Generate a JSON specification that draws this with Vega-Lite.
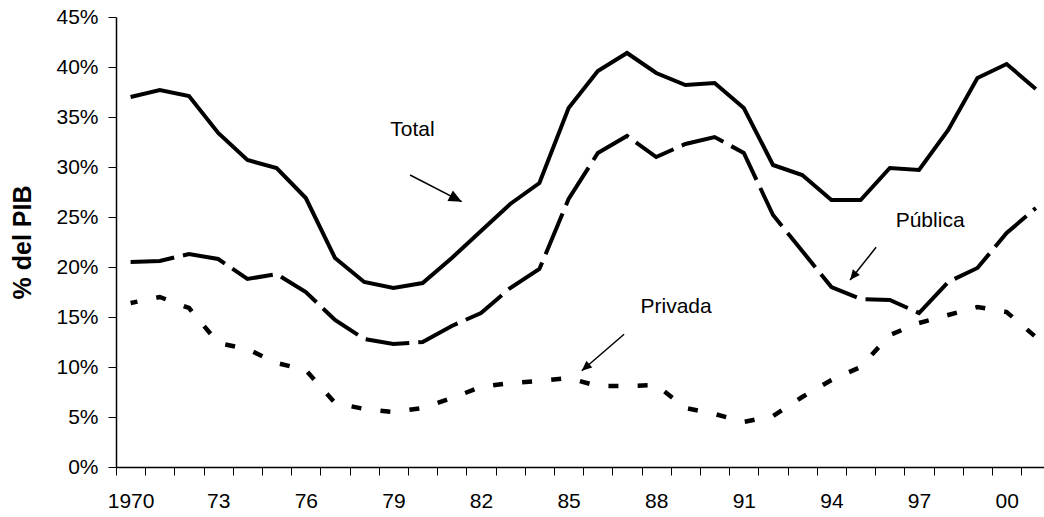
{
  "$schema": "https://vega.github.io/schema/vega-lite/v6.json",
  "width": 928,
  "height": 450,
  "autosize": {"type": "none"},
  "padding": {"left": 116, "top": 17, "right": 0, "bottom": 50},
  "background": "white",
  "config": {
    "view": {"stroke": null},
    "font": "Liberation Sans",
    "axis": {"labelFont": "Liberation Sans", "titleFont": "Liberation Sans", "labelColor": "black", "titleColor": "black", "domainColor": "black", "tickColor": "black", "grid": false}
  },
  "resolve": {"axis": {"x": "independent"}},
  "datasets": {
    "series": [
      {"year": 1970, "serie": "Total", "value": 37.0},
      {"year": 1971, "serie": "Total", "value": 37.7},
      {"year": 1972, "serie": "Total", "value": 37.1},
      {"year": 1973, "serie": "Total", "value": 33.4},
      {"year": 1974, "serie": "Total", "value": 30.7},
      {"year": 1975, "serie": "Total", "value": 29.9},
      {"year": 1976, "serie": "Total", "value": 26.9},
      {"year": 1977, "serie": "Total", "value": 20.9},
      {"year": 1978, "serie": "Total", "value": 18.5},
      {"year": 1979, "serie": "Total", "value": 17.9},
      {"year": 1980, "serie": "Total", "value": 18.4},
      {"year": 1981, "serie": "Total", "value": 20.9},
      {"year": 1982, "serie": "Total", "value": 23.6},
      {"year": 1983, "serie": "Total", "value": 26.3},
      {"year": 1984, "serie": "Total", "value": 28.4},
      {"year": 1985, "serie": "Total", "value": 35.9},
      {"year": 1986, "serie": "Total", "value": 39.6},
      {"year": 1987, "serie": "Total", "value": 41.4},
      {"year": 1988, "serie": "Total", "value": 39.4},
      {"year": 1989, "serie": "Total", "value": 38.2},
      {"year": 1990, "serie": "Total", "value": 38.4},
      {"year": 1991, "serie": "Total", "value": 35.9},
      {"year": 1992, "serie": "Total", "value": 30.2},
      {"year": 1993, "serie": "Total", "value": 29.2},
      {"year": 1994, "serie": "Total", "value": 26.7},
      {"year": 1995, "serie": "Total", "value": 26.7},
      {"year": 1996, "serie": "Total", "value": 29.9},
      {"year": 1997, "serie": "Total", "value": 29.7},
      {"year": 1998, "serie": "Total", "value": 33.7},
      {"year": 1999, "serie": "Total", "value": 38.9},
      {"year": 2000, "serie": "Total", "value": 40.3},
      {"year": 2001, "serie": "Total", "value": 37.8},
      {"year": 1970, "serie": "Pública", "value": 20.5},
      {"year": 1971, "serie": "Pública", "value": 20.6},
      {"year": 1972, "serie": "Pública", "value": 21.3},
      {"year": 1973, "serie": "Pública", "value": 20.8},
      {"year": 1974, "serie": "Pública", "value": 18.8},
      {"year": 1975, "serie": "Pública", "value": 19.3},
      {"year": 1976, "serie": "Pública", "value": 17.5},
      {"year": 1977, "serie": "Pública", "value": 14.7},
      {"year": 1978, "serie": "Pública", "value": 12.8},
      {"year": 1979, "serie": "Pública", "value": 12.3},
      {"year": 1980, "serie": "Pública", "value": 12.5},
      {"year": 1981, "serie": "Pública", "value": 14.1},
      {"year": 1982, "serie": "Pública", "value": 15.4},
      {"year": 1983, "serie": "Pública", "value": 17.9},
      {"year": 1984, "serie": "Pública", "value": 19.8},
      {"year": 1985, "serie": "Pública", "value": 26.8},
      {"year": 1986, "serie": "Pública", "value": 31.4},
      {"year": 1987, "serie": "Pública", "value": 33.1},
      {"year": 1988, "serie": "Pública", "value": 31.0},
      {"year": 1989, "serie": "Pública", "value": 32.3},
      {"year": 1990, "serie": "Pública", "value": 33.0},
      {"year": 1991, "serie": "Pública", "value": 31.4},
      {"year": 1992, "serie": "Pública", "value": 25.2},
      {"year": 1993, "serie": "Pública", "value": 21.6},
      {"year": 1994, "serie": "Pública", "value": 18.0},
      {"year": 1995, "serie": "Pública", "value": 16.8},
      {"year": 1996, "serie": "Pública", "value": 16.7},
      {"year": 1997, "serie": "Pública", "value": 15.4},
      {"year": 1998, "serie": "Pública", "value": 18.5},
      {"year": 1999, "serie": "Pública", "value": 19.9},
      {"year": 2000, "serie": "Pública", "value": 23.4},
      {"year": 2001, "serie": "Pública", "value": 25.9},
      {"year": 1970, "serie": "Privada", "value": 16.4},
      {"year": 1971, "serie": "Privada", "value": 17.0},
      {"year": 1972, "serie": "Privada", "value": 15.9},
      {"year": 1973, "serie": "Privada", "value": 12.4},
      {"year": 1974, "serie": "Privada", "value": 11.8},
      {"year": 1975, "serie": "Privada", "value": 10.4},
      {"year": 1976, "serie": "Privada", "value": 9.7},
      {"year": 1977, "serie": "Privada", "value": 6.4},
      {"year": 1978, "serie": "Privada", "value": 5.8},
      {"year": 1979, "serie": "Privada", "value": 5.5},
      {"year": 1980, "serie": "Privada", "value": 5.9},
      {"year": 1981, "serie": "Privada", "value": 6.9},
      {"year": 1982, "serie": "Privada", "value": 8.0},
      {"year": 1983, "serie": "Privada", "value": 8.4},
      {"year": 1984, "serie": "Privada", "value": 8.6},
      {"year": 1985, "serie": "Privada", "value": 8.9},
      {"year": 1986, "serie": "Privada", "value": 8.1},
      {"year": 1987, "serie": "Privada", "value": 8.1},
      {"year": 1988, "serie": "Privada", "value": 8.2},
      {"year": 1989, "serie": "Privada", "value": 5.9},
      {"year": 1990, "serie": "Privada", "value": 5.3},
      {"year": 1991, "serie": "Privada", "value": 4.5},
      {"year": 1992, "serie": "Privada", "value": 5.1},
      {"year": 1993, "serie": "Privada", "value": 7.0},
      {"year": 1994, "serie": "Privada", "value": 8.7},
      {"year": 1995, "serie": "Privada", "value": 10.0},
      {"year": 1996, "serie": "Privada", "value": 13.2},
      {"year": 1997, "serie": "Privada", "value": 14.4},
      {"year": 1998, "serie": "Privada", "value": 15.2},
      {"year": 1999, "serie": "Privada", "value": 16.0},
      {"year": 2000, "serie": "Privada", "value": 15.5},
      {"year": 2001, "serie": "Privada", "value": 13.0}
    ],
    "notes": [
      {"label": "Total", "year": 1979.65, "value": 33.7},
      {"label": "Pública", "year": 1997.38, "value": 24.6},
      {"label": "Privada", "year": 1988.68, "value": 16.0}
    ],
    "arrows": [
      {"name": "Total", "year": 1979.57, "value": 29.2, "year2": 1981.34, "value2": 26.53},
      {"name": "Pública", "year": 1995.53, "value": 21.97, "year2": 1994.64, "value2": 18.7},
      {"name": "Privada", "year": 1986.9, "value": 13.27, "year2": 1985.45, "value2": 9.63}
    ]
  },
  "layer": [
    {
      "data": {"name": "series"},
      "transform": [{"filter": "datum.serie == 'Total'"}],
      "mark": {"type": "line", "color": "black", "strokeWidth": 4},
      "encoding": {
        "x": {
          "field": "year", "type": "quantitative",
          "scale": {"domain": [1969.5, 2001.28], "nice": false, "zero": false},
          "axis": {
            "orient": "bottom",
            "title": null,
            "values": [1969.5, 1970.5, 1971.5, 1972.5, 1973.5, 1974.5, 1975.5, 1976.5, 1977.5, 1978.5, 1979.5, 1980.5, 1981.5, 1982.5, 1983.5, 1984.5, 1985.5, 1986.5, 1987.5, 1988.5, 1989.5, 1990.5, 1991.5, 1992.5, 1993.5, 1994.5, 1995.5, 1996.5, 1997.5, 1998.5, 1999.5, 2000.5],
            "labels": false,
            "tickSize": 8,
            "tickWidth": 1,
            "domainWidth": 1.5
          }
        },
        "y": {
          "field": "value", "type": "quantitative",
          "scale": {"domain": [0, 45], "nice": false},
          "axis": {
            "title": "% del PIB",
            "titleFontSize": 25,
            "titleFontWeight": "bold",
            "titlePadding": 20,
            "values": [0, 5, 10, 15, 20, 25, 30, 35, 40, 45],
            "labelExpr": "datum.value + '%'",
            "labelFontSize": 21,
            "labelPadding": 10,
            "tickSize": 8,
            "tickWidth": 1,
            "domainWidth": 1.5
          }
        }
      }
    },
    {
      "data": {"name": "series"},
      "transform": [{"filter": "datum.serie == 'Pública'"}],
      "mark": {"type": "line", "color": "black", "strokeWidth": 4, "strokeDash": [44, 9]},
      "encoding": {
        "x": {"field": "year", "type": "quantitative", "axis": null},
        "y": {"field": "value", "type": "quantitative"}
      }
    },
    {
      "data": {"name": "series"},
      "transform": [{"filter": "datum.serie == 'Privada'"}],
      "mark": {"type": "line", "color": "black", "strokeWidth": 4.5, "strokeDash": [10, 19.2], "strokeDashOffset": 3},
      "encoding": {
        "x": {"field": "year", "type": "quantitative", "axis": null},
        "y": {"field": "value", "type": "quantitative"}
      }
    },
    {
      "mark": {"type": "rule", "color": "#808080", "strokeWidth": 2},
      "encoding": {"y": {"datum": 45, "type": "quantitative"}}
    },
    {
      "data": {"name": "notes"},
      "mark": {"type": "text", "fontSize": 21, "font": "Liberation Sans", "color": "black", "align": "center", "baseline": "middle"},
      "encoding": {
        "x": {
          "field": "year", "type": "quantitative",
          "axis": {
            "orient": "bottom",
            "title": null,
            "values": [1970, 1973, 1976, 1979, 1982, 1985, 1988, 1991, 1994, 1997, 2000],
            "labelExpr": "datum.value == 1970 ? '1970' : slice(toString(datum.value), 2)",
            "labelFlush": false,
            "labelOverlap": false,
            "labelFontSize": 21,
            "labelPadding": 23,
            "ticks": false,
            "tickSize": 0,
            "domain": false
          }
        },
        "y": {"field": "value", "type": "quantitative"},
        "text": {"field": "label"}
      }
    },
    {
      "data": {"name": "arrows"},
      "mark": {"type": "rule", "color": "black", "strokeWidth": 1.5},
      "encoding": {
        "x": {"field": "year", "type": "quantitative", "axis": null},
        "y": {"field": "value", "type": "quantitative"},
        "x2": {"field": "year2"},
        "y2": {"field": "value2"}
      }
    },
    {
      "data": {"name": "arrows"},
      "transform": [{"filter": "datum.name == 'Total'"}],
      "mark": {"type": "point", "shape": "M0,0L-0.45,1L0.45,1Z", "filled": true, "color": "black", "opacity": 1, "size": 676, "angle": 117.3},
      "encoding": {
        "x": {"field": "year2", "type": "quantitative", "axis": null},
        "y": {"field": "value2", "type": "quantitative"}
      }
    },
    {
      "data": {"name": "arrows"},
      "transform": [{"filter": "datum.name == 'Pública'"}],
      "mark": {"type": "point", "shape": "M0,0L-0.45,1L0.45,1Z", "filled": true, "color": "black", "opacity": 1, "size": 400, "angle": 218.5},
      "encoding": {
        "x": {"field": "year2", "type": "quantitative", "axis": null},
        "y": {"field": "value2", "type": "quantitative"}
      }
    },
    {
      "data": {"name": "arrows"},
      "transform": [{"filter": "datum.name == 'Privada'"}],
      "mark": {"type": "point", "shape": "M0,0L-0.45,1L0.45,1Z", "filled": true, "color": "black", "opacity": 1, "size": 400, "angle": 229.3},
      "encoding": {
        "x": {"field": "year2", "type": "quantitative", "axis": null},
        "y": {"field": "value2", "type": "quantitative"}
      }
    }
  ]
}
